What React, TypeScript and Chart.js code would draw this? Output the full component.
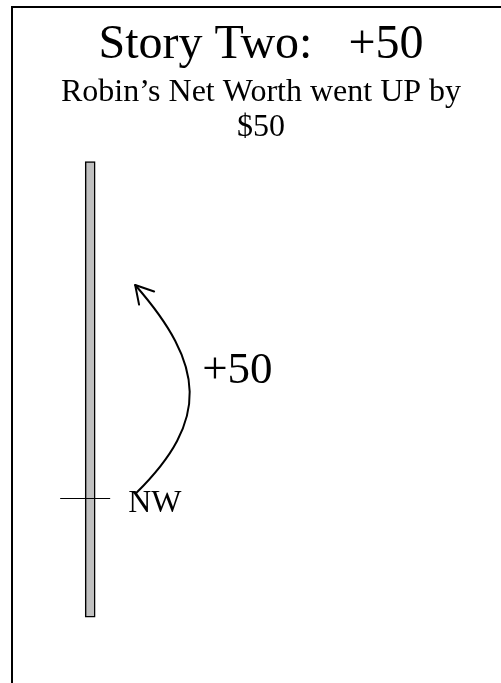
import React, { useEffect, useRef } from 'react';
import { Chart, registerables } from 'chart.js';

Chart.register(...registerables);

// ---- data ----
const categories = ['Net Worth'];
const numberLineRange = [-28, 79];
const startNetWorth = [0];
const changeValues = [50];
const pointLabels = ['NW'];
const changeLabels = ['+50'];
const titleText = 'Story Two:   +50';
const subtitleLines = ['Robin’s Net Worth went UP by', '$50'];
const yRange = [-40, 80];
const xRange = [0, 100];
const barPositions = [15.7];

const SERIF = "'Liberation Serif', 'Times New Roman', Times, serif";

const framePlugin = {
  id: 'frame',
  beforeDraw(chart: any) {
    const ctx = chart.ctx;
    ctx.save();
    ctx.fillStyle = '#ffffff';
    ctx.fillRect(0, 0, chart.width, chart.height);
    ctx.strokeStyle = '#000000';
    ctx.lineWidth = 2;
    ctx.beginPath();
    ctx.moveTo(12, chart.height);
    ctx.lineTo(12, 7);
    ctx.lineTo(chart.width, 7);
    ctx.stroke();
    ctx.restore();
  },
};

const annotationPlugin = {
  id: 'numberLineAnnotations',
  afterDatasetsDraw(chart: any) {
    const ctx = chart.ctx;
    const xs = chart.scales.x;
    const ys = chart.scales.y;
    const cx = xs.getPixelForValue(barPositions[0]);
    const y0 = ys.getPixelForValue(startNetWorth[0]);
    const y1 = ys.getPixelForValue(startNetWorth[0] + changeValues[0]);
    ctx.save();
    ctx.strokeStyle = '#000';
    ctx.fillStyle = '#000';

    // tick mark at current net worth
    ctx.lineWidth = 1;
    const ty = Math.round(y0) + 0.5;
    ctx.beginPath();
    ctx.moveTo(cx - 30, ty);
    ctx.lineTo(cx + 20, ty);
    ctx.stroke();

    // NW label
    ctx.font = `32px ${SERIF}`;
    ctx.textBaseline = 'alphabetic';
    ctx.textAlign = 'left';
    ctx.fillText(pointLabels[0], cx + 38, y0 + 14);

    // curved arrow from NW up by the change
    const sx = cx + 46, sy = y0 - 5;
    const ex = cx + 45, ey = y1;
    const c1x = sx + 74, c1y = sy - 73;
    const c2x = ex + 70, c2y = ey + 80;
    ctx.lineWidth = 2;
    ctx.lineCap = 'round';
    ctx.lineJoin = 'round';
    ctx.beginPath();
    ctx.moveTo(sx, sy);
    ctx.bezierCurveTo(c1x, c1y, c2x, c2y, ex, ey);
    ctx.stroke();

    // arrow head (open)
    const dx = c2x - ex, dy = c2y - ey;
    const len = Math.hypot(dx, dy);
    const ux = dx / len, uy = dy / len;
    const hl = 20;
    const a = Math.PI / 6;
    const r1x = ux * Math.cos(a) - uy * Math.sin(a);
    const r1y = ux * Math.sin(a) + uy * Math.cos(a);
    const r2x = ux * Math.cos(-a) - uy * Math.sin(-a);
    const r2y = ux * Math.sin(-a) + uy * Math.cos(-a);
    ctx.beginPath();
    ctx.moveTo(ex + r1x * hl, ey + r1y * hl);
    ctx.lineTo(ex, ey);
    ctx.lineTo(ex + r2x * hl, ey + r2y * hl);
    ctx.stroke();

    // change label
    ctx.font = `45px ${SERIF}`;
    ctx.fillText(changeLabels[0], cx + 112, (y0 + y1) / 2 - 8.5);
    ctx.restore();
  },
};

export default function App() {
  const ref = useRef<HTMLCanvasElement>(null);

  useEffect(() => {
    if (!ref.current) return;
    const chart = new Chart(ref.current, {
      type: 'bar',
      data: {
        labels: categories,
        datasets: [
          {
            label: categories[0],
            data: [{ x: barPositions[0], y: numberLineRange }] as any,
            backgroundColor: '#c0c0c0',
            borderColor: '#000000',
            borderWidth: 1.5,
            borderSkipped: false,
            barThickness: 10,
          },
        ],
      },
      options: {
        responsive: false,
        maintainAspectRatio: false,
        animation: false,
        events: [],
        layout: { padding: { left: 12, right: 0, top: 0, bottom: 14.6 } },
        scales: {
          x: {
            type: 'linear',
            min: xRange[0],
            max: xRange[1],
            offset: false,
            display: false,
          },
          y: {
            type: 'linear',
            min: yRange[0],
            max: yRange[1],
            beginAtZero: false,
            display: false,
          },
        },
        plugins: {
          legend: { display: false },
          tooltip: { enabled: false },
          title: {
            display: true,
            text: titleText,
            color: '#000',
            font: { family: SERIF, size: 48, weight: 'normal', lineHeight: 1.2 },
            padding: { top: 17, bottom: 0 },
          },
          subtitle: {
            display: true,
            text: subtitleLines,
            color: '#000',
            font: { family: SERIF, size: 32, weight: 'normal', lineHeight: 1.1 },
            padding: { top: 0, bottom: 12.2 },
          },
        },
      } as any,
      plugins: [framePlugin, annotationPlugin],
    });
    return () => chart.destroy();
  }, []);

  return (
    <div
      style={{
        position: 'absolute',
        left: 0,
        top: 0,
        width: 501,
        height: 683,
        overflow: 'hidden',
        background: '#fff',
      }}
    >
      <canvas ref={ref} width={510} height={683} style={{ display: 'block' }} />
    </div>
  );
}
